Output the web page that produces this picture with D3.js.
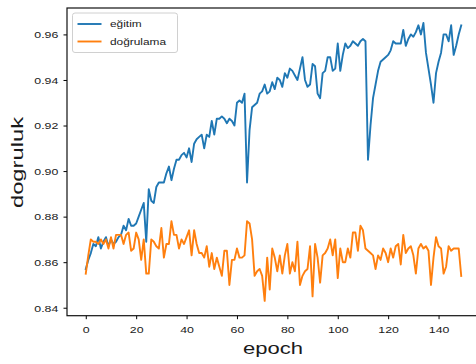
<!DOCTYPE html>
<html><head><meta charset="utf-8">
<script src="https://cdn.jsdelivr.net/npm/d3@7/dist/d3.min.js"></script>
<style>body{margin:0;background:#fff}svg{display:block}text{font-family:"Liberation Sans",Arial,sans-serif;fill:#1a1a1a}</style>
</head><body><svg id="c" width="476" height="364"></svg>
<script>
const epochs = d3.range(150);
const egitim = [
0.857,0.861,0.864,0.868,0.867,0.871,0.866,0.869,0.871,0.867,
0.870,0.868,0.869,0.871,0.872,0.876,0.874,0.879,0.876,0.876,
0.877,0.880,0.883,0.886,0.869,0.892,0.887,0.886,0.893,0.895,
0.895,0.895,0.899,0.902,0.896,0.901,0.905,0.905,0.907,0.908,
0.906,0.910,0.904,0.912,0.914,0.915,0.916,0.910,0.916,0.915,
0.922,0.916,0.923,0.923,0.924,0.923,0.921,0.923,0.922,0.920,
0.930,0.931,0.930,0.934,0.895,0.918,0.928,0.929,0.930,0.934,
0.935,0.938,0.934,0.935,0.939,0.936,0.941,0.940,0.937,0.943,
0.941,0.945,0.944,0.942,0.940,0.945,0.950,0.940,0.937,0.938,
0.947,0.946,0.934,0.932,0.943,0.944,0.950,0.950,0.944,0.945,
0.956,0.944,0.951,0.956,0.954,0.955,0.957,0.956,0.955,0.957,
0.958,0.957,0.905,0.920,0.932,0.938,0.944,0.948,0.949,0.950,
0.951,0.953,0.957,0.956,0.956,0.956,0.962,0.955,0.958,0.960,
0.959,0.961,0.964,0.960,0.965,0.952,0.945,0.938,0.930,0.943,
0.948,0.952,0.960,0.960,0.957,0.964,0.951,0.955,0.960,0.964];
const dogrulama = [
0.855,0.863,0.870,0.869,0.869,0.868,0.870,0.868,0.870,0.866,
0.871,0.866,0.872,0.872,0.872,0.868,0.872,0.873,0.865,0.866,
0.873,0.870,0.861,0.870,0.855,0.855,0.870,0.869,0.867,0.866,
0.875,0.862,0.868,0.868,0.878,0.872,0.872,0.866,0.870,0.868,
0.871,0.874,0.863,0.874,0.868,0.864,0.864,0.862,0.867,0.858,
0.864,0.857,0.862,0.858,0.854,0.865,0.865,0.850,0.861,0.861,
0.866,0.862,0.862,0.863,0.878,0.877,0.870,0.854,0.856,0.857,
0.854,0.843,0.862,0.848,0.866,0.862,0.856,0.863,0.855,0.863,
0.868,0.855,0.860,0.856,0.869,0.850,0.854,0.856,0.857,0.867,
0.845,0.868,0.862,0.851,0.863,0.864,0.866,0.870,0.863,0.870,
0.853,0.866,0.860,0.860,0.866,0.862,0.873,0.873,0.865,0.876,
0.874,0.866,0.865,0.864,0.863,0.857,0.863,0.861,0.866,0.864,
0.860,0.866,0.862,0.867,0.868,0.859,0.872,0.864,0.866,0.867,
0.863,0.855,0.866,0.868,0.866,0.867,0.865,0.850,0.862,0.871,
0.867,0.866,0.855,0.858,0.867,0.865,0.866,0.866,0.866,0.854];
const seriesNames = ["eğitim","doğrulama"];
const seriesColors = ["#1f77b4","#ff7f0e"];
const xTicks = [0,20,40,60,80,100,120,140];
const yTicks = [0.84,0.86,0.88,0.90,0.92,0.94,0.96];
const xLabel = "epoch", yLabel = "dogruluk";

const svg = d3.select("#c");
const L=67, T=8, R=480, B=315.7;
const x = d3.scaleLinear().domain([-7.45,156.45]).range([L,R]);
const y = d3.scaleLinear().domain([0.8365,0.9716]).range([B,T]);
const SX = 1.3;

const plot = svg.append("g");
plot.append("defs").append("clipPath").attr("id","clip").append("rect")
  .attr("x",L).attr("y",T).attr("width",R-L).attr("height",B-T);

const line = d3.line().x((d,i)=>x(epochs[i])).y(d=>y(d));
[egitim,dogrulama].forEach((s,k)=>{
  plot.append("path").datum(s).attr("d",line).attr("fill","none")
    .attr("stroke",seriesColors[k]).attr("stroke-width",1.9)
    .attr("stroke-linejoin","round").attr("stroke-linecap","square")
    .attr("clip-path","url(#clip)");
});

// axes
const gy = svg.append("g").attr("transform",`translate(${L},0)`)
  .call(d3.axisLeft(y).tickValues(yTicks).tickFormat(d3.format(".2f")).tickSize(3.5));
gy.select(".domain").remove();
gy.selectAll(".tick line").attr("stroke","#000").attr("stroke-width",1);
gy.selectAll(".tick text").attr("x",null).attr("dy","0.35em")
  .attr("transform",`translate(-8.7,0) scale(${SX},1)`)
  .attr("text-anchor","end").style("font-size","9.5px").style("font-family",null);

const gx = svg.append("g").attr("transform",`translate(0,${B})`)
  .call(d3.axisBottom(x).tickValues(xTicks).tickFormat(d3.format("d")).tickSize(3.5));
gx.select(".domain").remove();
gx.selectAll(".tick line").attr("stroke","#000").attr("stroke-width",1);
gx.selectAll(".tick text").attr("y",null).attr("dy",null)
  .attr("transform",`translate(0,17) scale(${SX},1)`)
  .attr("text-anchor","middle").style("font-size","9.5px").style("font-family",null);
svg.selectAll(".tick text").attr("fill","#1a1a1a");

// spines
svg.append("rect").attr("x",L).attr("y",T).attr("width",R-L).attr("height",B-T)
  .attr("fill","none").attr("stroke","#111").attr("stroke-width",1.2);

// labels
svg.append("text").text(xLabel).attr("text-anchor","middle")
  .attr("transform",`translate(${(L+R)/2 - 0.5},353.5) scale(1.335,1)`)
  .style("font-size","16.5px");
svg.append("text").text(yLabel).attr("text-anchor","middle")
  .attr("transform",`translate(22.5,162.5) rotate(-90) scale(1.44,1)`)
  .style("font-size","16.5px");

// legend
const lg = svg.append("g");
lg.append("rect").attr("x",72.5).attr("y",13).attr("width",105).attr("height",39.5)
  .attr("rx",2.5).attr("fill","#fff").attr("fill-opacity",0.8)
  .attr("stroke","#d0d0d0").attr("stroke-width",1);
seriesNames.forEach((n,k)=>{
  const yy = [24,41.5][k];
  lg.append("line").attr("x1",77.5).attr("x2",101.5).attr("y1",yy).attr("y2",yy)
    .attr("stroke",seriesColors[k]).attr("stroke-width",1.9);
  lg.append("text").text(n).attr("dy","0.35em")
    .attr("transform",`translate(110,${yy}) scale(1.25,1)`)
    .style("font-size","9.5px");
});
</script>
</body></html>
